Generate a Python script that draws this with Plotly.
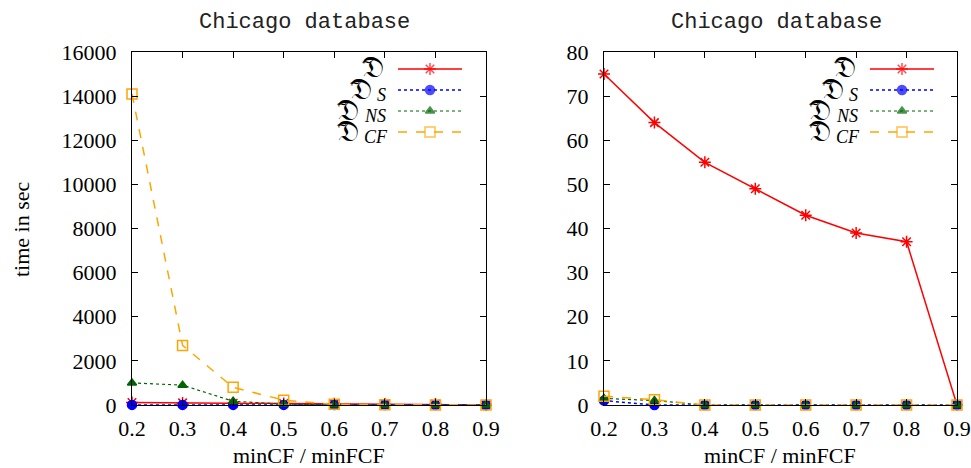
import plotly.graph_objects as go

x_vals = [0.2, 0.3, 0.4, 0.5, 0.6, 0.7, 0.8, 0.9]

# Left panel (time in sec)
left_D = [110, 95, 80, 65, 55, 50, 45, 5]
left_DS = [5, 5, 5, 4, 3, 2, 1, 1]
left_DNS = [1000, 900, 170, 40, 10, 5, 3, 1]
left_DCF = [14100, 2700, 800, 220, 30, 10, 5, 2]

# Right panel
right_D = [75, 64, 55, 49, 43, 39, 37, 0]
right_DS = [1, 0, 0, 0, 0, 0, 0, 0]
right_DNS = [1.5, 1, 0, 0, 0, 0, 0, 0]
right_DCF = [2, 1.2, 0, 0, 0, 0, 0, 0]

left_yticks = [0, 2000, 4000, 6000, 8000, 10000, 12000, 14000, 16000]
right_yticks = [0, 10, 20, 30, 40, 50, 60, 70, 80]

legend_subs = ["", "S", "NS", "CF"]

styles = [
    dict(color="#ff0000", dash="solid", width=1.5, symbol="asterisk-open", msize=10),
    dict(color="#0000ff", dash="dot", width=1.5, symbol="circle", msize=9),
    dict(color="#006400", dash="dot", width=1.2, symbol="triangle-up", msize=8),
    dict(color="#ffa500", dash="dash", width=1.5, symbol="square-open", msize=10),
]

# body margin is removed by post_script, so the figure sits at (0, 0)
W, H = 971, 468
def px(x):
    return x / W
def py(y):
    return 1 - y / H

fig = go.Figure()

panels = [
    ("x", "y", [left_D, left_DS, left_DNS, left_DCF]),
    ("x2", "y2", [right_D, right_DS, right_DNS, right_DCF]),
]
for xa, ya, series in panels:
    for s, st in zip(series, styles):
        fig.add_trace(go.Scatter(
            x=x_vals, y=s, xaxis=xa, yaxis=ya, mode="lines+markers",
            line=dict(color=st["color"], dash=st["dash"], width=st["width"]),
            marker=dict(symbol=st["symbol"], size=st["msize"], color=st["color"],
                        line=dict(color=st["color"], width=1.5)),
            cliponaxis=False, showlegend=False,
        ))

# legend samples on dedicated axes (rows 3..0 top to bottom)
legend_rows = [69, 90, 111, 132]
leg_axes = [("x3", "y3"), ("x4", "y4")]
for xa, ya in leg_axes:
    for i, st in enumerate(styles):
        yy = 3 - i
        fig.add_trace(go.Scatter(
            x=[0, 0.5, 1], y=[yy, yy, yy], xaxis=xa, yaxis=ya,
            mode="lines+markers",
            line=dict(color=st["color"], dash=st["dash"], width=st["width"]),
            marker=dict(symbol=st["symbol"], size=[0, st["msize"], 0], color=st["color"],
                        line=dict(color=st["color"], width=1.5)),
            cliponaxis=False, showlegend=False, hoverinfo="skip",
        ))

font = dict(family="Liberation Serif, Times New Roman, serif", size=22, color="black")
axis_common = dict(showline=True, mirror="ticks", linecolor="black", linewidth=1,
                   ticks="inside", ticklen=6, tickcolor="black", showgrid=False,
                   zeroline=False, tickfont=font, automargin=False)

ydom = [py(405), py(52)]
leg_ydom = [py(142.5), py(58.5)]
fig.update_layout(
    width=W, height=H, margin=dict(l=0, r=0, t=0, b=0, autoexpand=False),
    paper_bgcolor="white", plot_bgcolor="white", font=font,
    xaxis=dict(domain=[px(132), px(486)], range=[0.2, 0.9], tickvals=x_vals,
               ticktext=[f"{v:.1f}" for v in x_vals], anchor="y",
               ticklabelstandoff=4, **axis_common),
    yaxis=dict(domain=ydom, range=[0, 16000], tickvals=left_yticks,
               ticktext=[str(v) for v in left_yticks], anchor="x",
               ticklabelstandoff=10, **axis_common),
    xaxis2=dict(domain=[px(604), px(957)], range=[0.2, 0.9], tickvals=x_vals,
                ticktext=[f"{v:.1f}" for v in x_vals], anchor="y2",
                ticklabelstandoff=4, **axis_common),
    yaxis2=dict(domain=ydom, range=[0, 80], tickvals=right_yticks,
                ticktext=[str(v) for v in right_yticks], anchor="x2",
                ticklabelstandoff=10, **axis_common),
    xaxis3=dict(domain=[px(390), px(470)], range=[-0.125, 1.125], visible=False, anchor="y3"),
    yaxis3=dict(domain=leg_ydom, range=[-0.5, 3.5], visible=False, anchor="x3"),
    xaxis4=dict(domain=[px(862), px(942)], range=[-0.125, 1.125], visible=False, anchor="y4"),
    yaxis4=dict(domain=leg_ydom, range=[-0.5, 3.5], visible=False, anchor="x4"),
)

ann = []
mono = dict(family="Liberation Mono, Courier New, monospace", size=22, color="#222")
for cx in (304, 776):
    ann.append(dict(text="Chicago database", x=px(cx), y=py(22), xref="paper", yref="paper",
                    showarrow=False, font=mono, xanchor="center", yanchor="middle"))
for cx in (309, 780):
    ann.append(dict(text="minCF / minFCF", x=px(cx), y=py(455), xref="paper", yref="paper",
                    showarrow=False, font=font, xanchor="center", yanchor="middle"))
ann.append(dict(text="time in sec", x=px(21), y=py(229), xref="paper", yref="paper",
                showarrow=False, font=font, textangle=-90, xanchor="center", yanchor="middle"))

# legend text: fraktur D with tilde, italic subscript, right-aligned to the sample
dfont = dict(family="DejaVu Serif, serif", size=30, color="black")
sfont = dict(family="Liberation Serif, serif", size=18, color="black")
tfont = dict(family="DejaVu Sans, sans-serif", size=14, color="black")
d_right = [386, 374, 361, 361]
for off in (0, 472):
    for sub, ry, dr in zip(legend_subs, legend_rows, d_right):
        ann.append(dict(text="𝔇", x=px(dr + off), y=py(ry - 2), xref="paper", yref="paper",
                        showarrow=False, font=dfont, xanchor="right", yanchor="middle"))
        ann.append(dict(text="~", x=px(dr - 19 + off), y=py(ry - 7), xref="paper", yref="paper",
                        showarrow=False, font=tfont, xanchor="center", yanchor="middle"))
        if sub:
            ann.append(dict(text=f"<i>{sub}</i>", x=px(dr + 1 + off), y=py(ry + 5),
                            xref="paper", yref="paper", showarrow=False, font=sfont,
                            xanchor="left", yanchor="middle"))
fig.update_layout(annotations=ann)

post = ("document.body.style.margin='0';"
        "document.body.style.overflow='hidden';"
        "document.documentElement.style.overflow='hidden';")
fig.write_html("out.html", post_script=post, config={"displayModeBar": False})
